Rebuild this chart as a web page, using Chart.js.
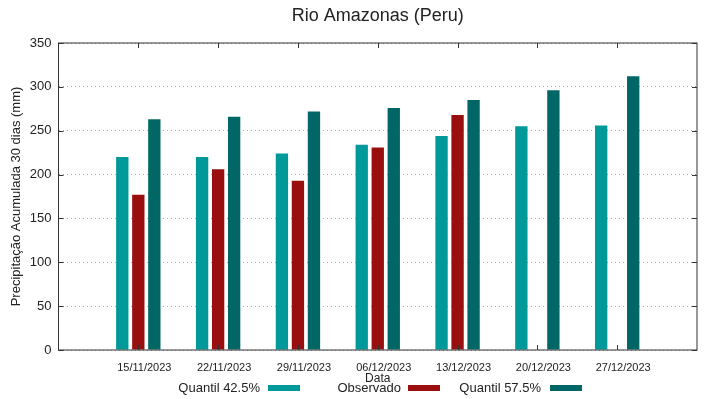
<!DOCTYPE html>
<html><head><meta charset="utf-8">
<script src="https://cdn.jsdelivr.net/npm/chart.js@4/dist/chart.umd.min.js"></script>
<style>html,body{margin:0;padding:0;background:#fff;}canvas{display:block;}</style>
</head><body>
<canvas id="c" width="719" height="399"></canvas>
<script>
const dates = ['15/11/2023','22/11/2023','29/11/2023','06/12/2023','13/12/2023','20/12/2023','27/12/2023'];
const quantil425 = [220, 220, 224, 234, 244, 255, 256];
const observado = [177, 206, 193, 231, 268, null, null];
const quantil575 = [263, 266, 272, 276, 285, 296, 312];
const yTicks = [0, 50, 100, 150, 200, 250, 300, 350];
const seriesNames = ['Quantil 42.5%', 'Observado', 'Quantil 57.5%'];
const colors = ['#009999', '#990e0e', '#006666'];
const titleText = 'Rio Amazonas (Peru)';
const yTitle = 'Precipitação Acumulada 30 dias (mm)';
const xTitle = 'Data';

const labels = [''].concat(dates, ['']);
const pad = arr => [null].concat(arr, [null]);
const FONT = '"Liberation Sans", Arial, sans-serif';

const decor = {
  id: 'decor',
  afterDraw(chart) {
    const ctx = chart.ctx, a = chart.chartArea;
    const xs = chart.scales.x, ys = chart.scales.y;
    ctx.save();
    // border box
    ctx.strokeStyle = '#333';
    ctx.lineWidth = 1;
    ctx.strokeRect(a.left, a.top, a.right - a.left, a.bottom - a.top);
    // inward ticks
    ctx.beginPath();
    yTicks.forEach(v => {
      const y = Math.round(ys.getPixelForValue(v)) + 0.5;
      ctx.moveTo(a.left, y); ctx.lineTo(a.left + 5, y);
      ctx.moveTo(a.right, y); ctx.lineTo(a.right - 5, y);
    });
    dates.forEach((d, i) => {
      const x = Math.round(xs.getPixelForValue(i + 1)) + 0.5;
      ctx.moveTo(x, a.bottom); ctx.lineTo(x, a.bottom - 5);
      ctx.moveTo(x, a.top); ctx.lineTo(x, a.top + 5);
    });
    ctx.stroke();
    const cx = (a.left + a.right) / 2;
    ctx.fillStyle = '#222';
    // title
    ctx.font = '18px ' + FONT;
    ctx.textAlign = 'center'; ctx.textBaseline = 'middle';
    ctx.fillText(titleText, cx, 16);
    // x title
    ctx.font = '12px ' + FONT;
    ctx.fillText(xTitle, cx, 379);
    // y title
    ctx.save();
    ctx.translate(16, (a.top + a.bottom) / 2);
    ctx.rotate(-Math.PI / 2);
    ctx.font = '13px ' + FONT;
    ctx.fillText(yTitle, 0, 0);
    ctx.restore();
    // legend
    ctx.font = '13px ' + FONT;
    ctx.textAlign = 'right';
    const textRight = [260, 401, 541];
    const sampleLeft = [268, 408, 550];
    seriesNames.forEach((n, i) => {
      ctx.fillStyle = '#222';
      ctx.fillText(n, textRight[i], 388);
      ctx.fillStyle = colors[i];
      ctx.fillRect(sampleLeft[i], 385, 32, 6);
    });
    ctx.restore();
  }
};

new Chart(document.getElementById('c'), {
  type: 'bar',
  data: {
    labels: labels,
    datasets: [
      { label: seriesNames[0], data: pad(quantil425), backgroundColor: colors[0] },
      { label: seriesNames[1], data: pad(observado), backgroundColor: colors[1] },
      { label: seriesNames[2], data: pad(quantil575), backgroundColor: colors[2] }
    ]
  },
  options: {
    responsive: false,
    animation: false,
    devicePixelRatio: 1,
    layout: { padding: { top: 43, right: 22, left: 0, bottom: 0 } },
    datasets: { bar: { categoryPercentage: 0.602, barPercentage: 0.77 } },
    plugins: { legend: { display: false }, title: { display: false }, tooltip: { enabled: false } },
    scales: {
      x: {
        offset: false,
        grid: { display: false, drawTicks: false },
        border: { display: false },
        ticks: { autoSkip: false, maxRotation: 0, minRotation: 0, padding: 11, labelOffset: 6, color: '#222', font: { size: 11, family: FONT } },
        afterFit: s => { s.height = 49; }
      },
      y: {
        min: 0, max: 350,
        afterBuildTicks: s => { s.ticks = yTicks.map(v => ({ value: v })); },
        grid: { color: '#aaa', drawTicks: false },
        border: { display: false, dash: [1, 3] },
        ticks: { padding: 7, color: '#222', font: { size: 13, family: FONT } },
        afterFit: s => { s.width = 58.5; }
      }
    }
  },
  plugins: [decor]
});
</script>
</body></html>
